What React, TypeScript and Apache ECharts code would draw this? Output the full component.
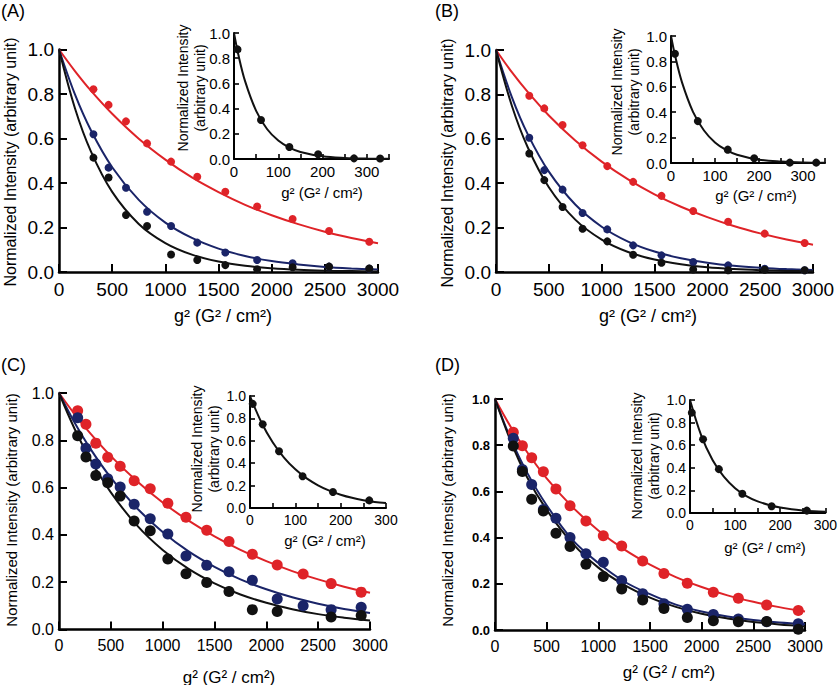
import React, { useEffect, useRef } from 'react';
import * as echarts from 'echarts';

// ---------- data ----------
const FIT_X = [0, 150, 300, 500, 750, 1000, 1250, 1500, 1750, 2000, 2250, 2500, 2750, 3000];

// Panel A
const A_X = [324, 466, 630, 828, 1054, 1300, 1564, 1863, 2197, 2540, 2918];
const A_RED = [0.821, 0.751, 0.677, 0.578, 0.496, 0.428, 0.361, 0.294, 0.238, 0.184, 0.136];
const A_BLUE = [0.619, 0.469, 0.379, 0.271, 0.207, 0.132, 0.088, 0.054, 0.039, 0.024, 0.015];
const A_BLACK = [0.514, 0.425, 0.256, 0.207, 0.079, 0.054, 0.031, 0.012, 0.021, 0.024, 0.016];
const A_RED_FIT = [1, 0.903, 0.815, 0.711, 0.599, 0.505, 0.425, 0.359, 0.302, 0.255, 0.215, 0.181, 0.153, 0.129];
const A_BLUE_FIT = [1, 0.798, 0.637, 0.471, 0.324, 0.222, 0.153, 0.105, 0.072, 0.049, 0.034, 0.023, 0.016, 0.011];
const A_BLACK_FIT = [1, 0.736, 0.542, 0.36, 0.216, 0.13, 0.078, 0.047, 0.028, 0.017, 0.01, 0.006, 0.004, 0.002];

// Panel B
const B_X = [315, 457, 630, 819, 1053, 1298, 1566, 1866, 2197, 2543, 2921];
const B_RED = [0.794, 0.737, 0.662, 0.571, 0.477, 0.406, 0.343, 0.275, 0.226, 0.173, 0.131];
const B_BLUE = [0.605, 0.459, 0.371, 0.266, 0.192, 0.12, 0.075, 0.045, 0.03, 0.015, 0.008];
const B_BLACK = [0.534, 0.414, 0.293, 0.195, 0.138, 0.078, 0.042, 0.011, 0.008, 0.01, 0.008];
const B_RED_FIT = [1, 0.9, 0.811, 0.705, 0.592, 0.497, 0.417, 0.35, 0.294, 0.247, 0.207, 0.174, 0.146, 0.123];
const B_BLUE_FIT = [1, 0.788, 0.621, 0.452, 0.304, 0.204, 0.137, 0.092, 0.062, 0.042, 0.028, 0.019, 0.013, 0.009];
const B_BLACK_FIT = [1, 0.749, 0.562, 0.382, 0.236, 0.146, 0.09, 0.056, 0.035, 0.021, 0.013, 0.008, 0.005, 0.003];

// Panel C
const C_X = [180, 260, 355, 470, 590, 725, 880, 1050, 1225, 1425, 1640, 1865, 2105, 2355, 2625, 2915];
const C_RED = [0.925, 0.868, 0.788, 0.728, 0.69, 0.629, 0.595, 0.534, 0.475, 0.42, 0.372, 0.318, 0.273, 0.235, 0.194, 0.158];
const C_BLUE = [0.895, 0.766, 0.7, 0.637, 0.603, 0.53, 0.468, 0.404, 0.311, 0.272, 0.244, 0.208, 0.129, 0.1, 0.084, 0.094];
const C_BLACK = [0.819, 0.729, 0.651, 0.621, 0.564, 0.459, 0.418, 0.298, 0.236, 0.199, 0.161, 0.084, 0.076, null, 0.053, 0.059];
const C_RED_FIT = [1, 0.911, 0.83, 0.733, 0.628, 0.537, 0.46, 0.394, 0.337, 0.289, 0.247, 0.212, 0.181, 0.155];
const C_BLUE_FIT = [1, 0.875, 0.766, 0.642, 0.514, 0.412, 0.33, 0.265, 0.212, 0.17, 0.136, 0.109, 0.087, 0.07];
const C_BLACK_FIT = [1, 0.849, 0.721, 0.58, 0.441, 0.336, 0.256, 0.195, 0.148, 0.113, 0.086, 0.065, 0.05, 0.038];

// Panel D
const D_X = [177, 265, 355, 468, 590, 726, 880, 1048, 1226, 1429, 1635, 1861, 2113, 2355, 2629, 2935];
const D_RED = [0.856, 0.798, 0.746, 0.685, 0.61, 0.538, 0.472, 0.408, 0.364, 0.299, 0.245, 0.202, 0.163, 0.137, 0.108, 0.084];
const D_BLUE = [0.83, 0.695, 0.63, 0.522, 0.484, 0.4, 0.33, 0.293, 0.214, 0.157, 0.114, 0.09, 0.067, 0.048, 0.036, 0.027];
const D_BLACK = [0.797, 0.686, 0.566, 0.515, 0.419, 0.362, 0.285, 0.232, 0.178, 0.13, 0.093, 0.054, 0.04, 0.036, 0.037, 0.003];
const D_RED_FIT = [1, 0.881, 0.777, 0.656, 0.532, 0.431, 0.349, 0.283, 0.229, 0.186, 0.15, 0.122, 0.099, 0.08];
const D_BLUE_FIT = [1, 0.83, 0.69, 0.54, 0.39, 0.29, 0.21, 0.155, 0.11, 0.08, 0.058, 0.043, 0.032, 0.025];
const D_BLACK_FIT = [1, 0.82, 0.67, 0.52, 0.375, 0.27, 0.195, 0.14, 0.1, 0.07, 0.05, 0.035, 0.024, 0.016];

// Insets
const INSET_FIT_X_350 = [0, 10, 25, 50, 75, 100, 125, 150, 200, 250, 300, 350];
const INSET_FIT_X_300 = [0, 25, 50, 75, 100, 125, 150, 175, 200, 225, 250, 275, 300];

const A_IN_X = [8, 61, 125, 190, 271, 330];
const A_IN_Y = [0.87, 0.31, 0.095, 0.037, 0.005, 0.004];
const A_IN_FIT = [1, 0.825, 0.618, 0.382, 0.236, 0.146, 0.09, 0.056, 0.021, 0.008, 0.003, 0.001];

const B_IN_X = [9, 61, 129, 189, 270, 330];
const B_IN_Y = [0.86, 0.33, 0.105, 0.037, 0.003, 0.003];
const B_IN_FIT = [1, 0.834, 0.635, 0.403, 0.256, 0.162, 0.103, 0.065, 0.026, 0.011, 0.004, 0.002];

const C_IN_X = [6, 28, 64, 116, 183, 263];
const C_IN_Y = [0.93, 0.747, 0.506, 0.283, 0.143, 0.068];
const C_IN_FIT = [1, 0.766, 0.587, 0.45, 0.345, 0.264, 0.203, 0.155, 0.119, 0.091, 0.07, 0.054, 0.045];

const D_IN_X = [4, 29, 64, 116, 181, 259];
const D_IN_Y = [0.888, 0.653, 0.388, 0.171, 0.059, 0.021];
const D_IN_FIT = [1, 0.685, 0.469, 0.321, 0.22, 0.15, 0.103, 0.071, 0.048, 0.033, 0.023, 0.016, 0.011];

const MAIN_Y_NAME = 'Normalized Intensity (arbitrary unit)';
const INSET_Y_NAME = 'Normalized Intensity\n(arbitrary unit)';
const X_NAME = 'g\u00b2 (G\u00b2 / cm\u00b2)';
const PANEL_LABELS = ['(A)', '(B)', '(C)', '(D)'];

// ---------- styling ----------
const FONT = '"Liberation Sans", Arial, Helvetica, sans-serif';
const RED = '#df2328';
const NAVY = '#1a2468';
const BLACK = '#111111';

function pairs(xs: number[], ys: (number | null)[]) {
  const out: number[][] = [];
  xs.forEach((x, i) => {
    const y = ys[i];
    if (y !== null && y !== undefined) out.push([x, y]);
  });
  return out;
}

function buildOption() {
  const grid: any[] = [];
  const xAxis: any[] = [];
  const yAxis: any[] = [];
  const series: any[] = [];
  const graphic: any[] = [];

  function addAxes(c: any) {
    const idx = grid.length;
    grid.push({ left: c.left, top: c.top, width: c.width, height: c.height, containLabel: false });
    xAxis.push({
      type: 'value', gridIndex: idx, min: 0, max: c.xMax, interval: c.xStep,
      axisLine: { show: true, onZero: false, lineStyle: { color: '#000', width: c.lineW } },
      axisTick: { show: true, inside: true, length: c.tickLen, lineStyle: { color: '#000', width: c.lineW * 0.8 } },
      splitLine: { show: false },
      axisLabel: {
        formatter: (v: number) => (Math.round(v) % c.xLabelStep === 0 ? String(Math.round(v)) : ''),
        fontSize: c.xFont, color: '#000', fontFamily: FONT, margin: c.xMargin,
      },
    });
    yAxis.push({
      type: 'value', gridIndex: idx, min: 0, max: 1, interval: 0.2,
      axisLine: { show: true, onZero: false, lineStyle: { color: '#000', width: c.lineW } },
      axisTick: { show: true, inside: true, length: c.tickLen, lineStyle: { color: '#000', width: c.lineW * 0.8 } },
      splitLine: { show: false },
      axisLabel: {
        formatter: (v: number) => v.toFixed(1),
        fontSize: c.yFont, color: '#000', fontFamily: FONT, margin: c.yMargin,
        fontWeight: c.yBold ? 'bold' : 'normal',
      },
    });
    return idx;
  }

  function addCurve(idx: number, xs: number[], ys: number[], color: string, w: number) {
    series.push({
      type: 'line', xAxisIndex: idx, yAxisIndex: idx, data: pairs(xs, ys),
      smooth: 0.35, showSymbol: false, symbol: 'none',
      lineStyle: { color, width: w }, z: 2, silent: true,
    });
  }
  function addDots(idx: number, xs: number[], ys: (number | null)[], color: string, size: number) {
    series.push({
      type: 'scatter', xAxisIndex: idx, yAxisIndex: idx, data: pairs(xs, ys),
      symbol: 'circle', symbolSize: size, itemStyle: { color, opacity: 1 }, z: 3, silent: true,
    });
  }
  function text(t: string, x: number, y: number, size: number, rotate = false, align = 'center', lh?: number) {
    graphic.push({
      type: 'text', x, y, rotation: rotate ? Math.PI / 2 : 0, silent: true,
      style: {
        text: t, fontSize: size, fontFamily: FONT, fill: '#000',
        align, verticalAlign: 'middle', lineHeight: lh || Math.round(size * 1.2),
      },
    });
  }

  const mains = [
    { rect: { left: 59, top: 49.5, width: 319, height: 222.5 }, xFont: 19, yFont: 19, yBold: false, dot: 8,
      xs: A_X, red: A_RED, blue: A_BLUE, black: A_BLACK, rf: A_RED_FIT, bf: A_BLUE_FIT, kf: A_BLACK_FIT,
      yName: [10, 162, 16], xName: [223, 316, 18], label: [1, 11] },
    { rect: { left: 496, top: 50, width: 317, height: 222 }, xFont: 19, yFont: 19, yBold: false, dot: 8,
      xs: B_X, red: B_RED, blue: B_BLUE, black: B_BLACK, rf: B_RED_FIT, bf: B_BLUE_FIT, kf: B_BLACK_FIT,
      yName: [447, 163, 16], xName: [648, 316, 18], label: [435, 11] },
    { rect: { left: 59, top: 393, width: 311, height: 236.5 }, xFont: 16, yFont: 16, yBold: false, dot: 11,
      xs: C_X, red: C_RED, blue: C_BLUE, black: C_BLACK, rf: C_RED_FIT, bf: C_BLUE_FIT, kf: C_BLACK_FIT,
      yName: [11, 510, 15], xName: [229, 677, 17], label: [1, 365] },
    { rect: { left: 495, top: 399, width: 310, height: 231 }, xFont: 16, yFont: 13, yBold: true, dot: 11,
      xs: D_X, red: D_RED, blue: D_BLUE, black: D_BLACK, rf: D_RED_FIT, bf: D_BLUE_FIT, kf: D_BLACK_FIT,
      yName: [447, 510, 15], xName: [669, 672, 17], label: [435, 365] },
  ];

  const insets = [
    { rect: { left: 234, top: 33, width: 155, height: 126 }, xMax: 350, fx: INSET_FIT_X_350, xs: A_IN_X, ys: A_IN_Y, fit: A_IN_FIT,
      font: 15, yName: [191, 88], xName: [322, 192] },
    { rect: { left: 671, top: 36, width: 154, height: 127 }, xMax: 350, fx: INSET_FIT_X_350, xs: B_IN_X, ys: B_IN_Y, fit: B_IN_FIT,
      font: 15, yName: [625, 92], xName: [756, 195] },
    { rect: { left: 250, top: 396, width: 136, height: 112 }, xMax: 300, fx: INSET_FIT_X_300, xs: C_IN_X, ys: C_IN_Y, fit: C_IN_FIT,
      font: 14, yName: [205, 449], xName: [325, 540] },
    { rect: { left: 690, top: 400, width: 139, height: 113 }, xMax: 300, fx: INSET_FIT_X_300, xs: D_IN_X, ys: D_IN_Y, fit: D_IN_FIT,
      font: 14, yName: [645, 456], xName: [765, 547] },
  ];

  mains.forEach((m, i) => {
    const idx = addAxes({ ...m.rect, xMax: 3000, xStep: 500, xLabelStep: 500, xFont: m.xFont, yFont: m.yFont, yBold: m.yBold,
      lineW: 2.5, tickLen: 8, xMargin: 8, yMargin: 5 });
    addCurve(idx, FIT_X, m.rf, RED, 2);
    addCurve(idx, FIT_X, m.bf, NAVY, 2);
    addCurve(idx, FIT_X, m.kf, BLACK, 2);
    addDots(idx, m.xs, m.red, RED, m.dot);
    addDots(idx, m.xs, m.blue, NAVY, m.dot);
    addDots(idx, m.xs, m.black, BLACK, m.dot);
    text(MAIN_Y_NAME, m.yName[0], m.yName[1], m.yName[2], true);
    text(X_NAME, m.xName[0], m.xName[1], m.xName[2]);
    text(PANEL_LABELS[i], m.label[0], m.label[1], 18, false, 'left');
  });

  insets.forEach((s) => {
    const idx = addAxes({ ...s.rect, xMax: s.xMax, xStep: 50, xLabelStep: 100, xFont: s.font, yFont: s.font, yBold: false,
      lineW: 2, tickLen: 5, xMargin: 5, yMargin: 4 });
    addCurve(idx, s.fx, s.fit, BLACK, 2);
    addDots(idx, s.xs, s.ys, BLACK, 8);
    text(INSET_Y_NAME, s.yName[0], s.yName[1], 14, true, 'center', 17);
    text(X_NAME, s.xName[0], s.xName[1], 15);
  });

  return {
    animation: false,
    backgroundColor: '#ffffff',
    textStyle: { fontFamily: FONT },
    grid, xAxis, yAxis, series, graphic,
  };
}

export default function App() {
  const ref = useRef<HTMLDivElement>(null);
  useEffect(() => {
    if (!ref.current) return;
    const chart = echarts.init(ref.current, undefined, { renderer: 'svg' });
    chart.setOption(buildOption() as any);
    return () => chart.dispose();
  }, []);
  return (
    <div
      ref={ref}
      style={{ position: 'absolute', left: 0, top: 0, width: 840, height: 685, background: '#fff' }}
    />
  );
}
